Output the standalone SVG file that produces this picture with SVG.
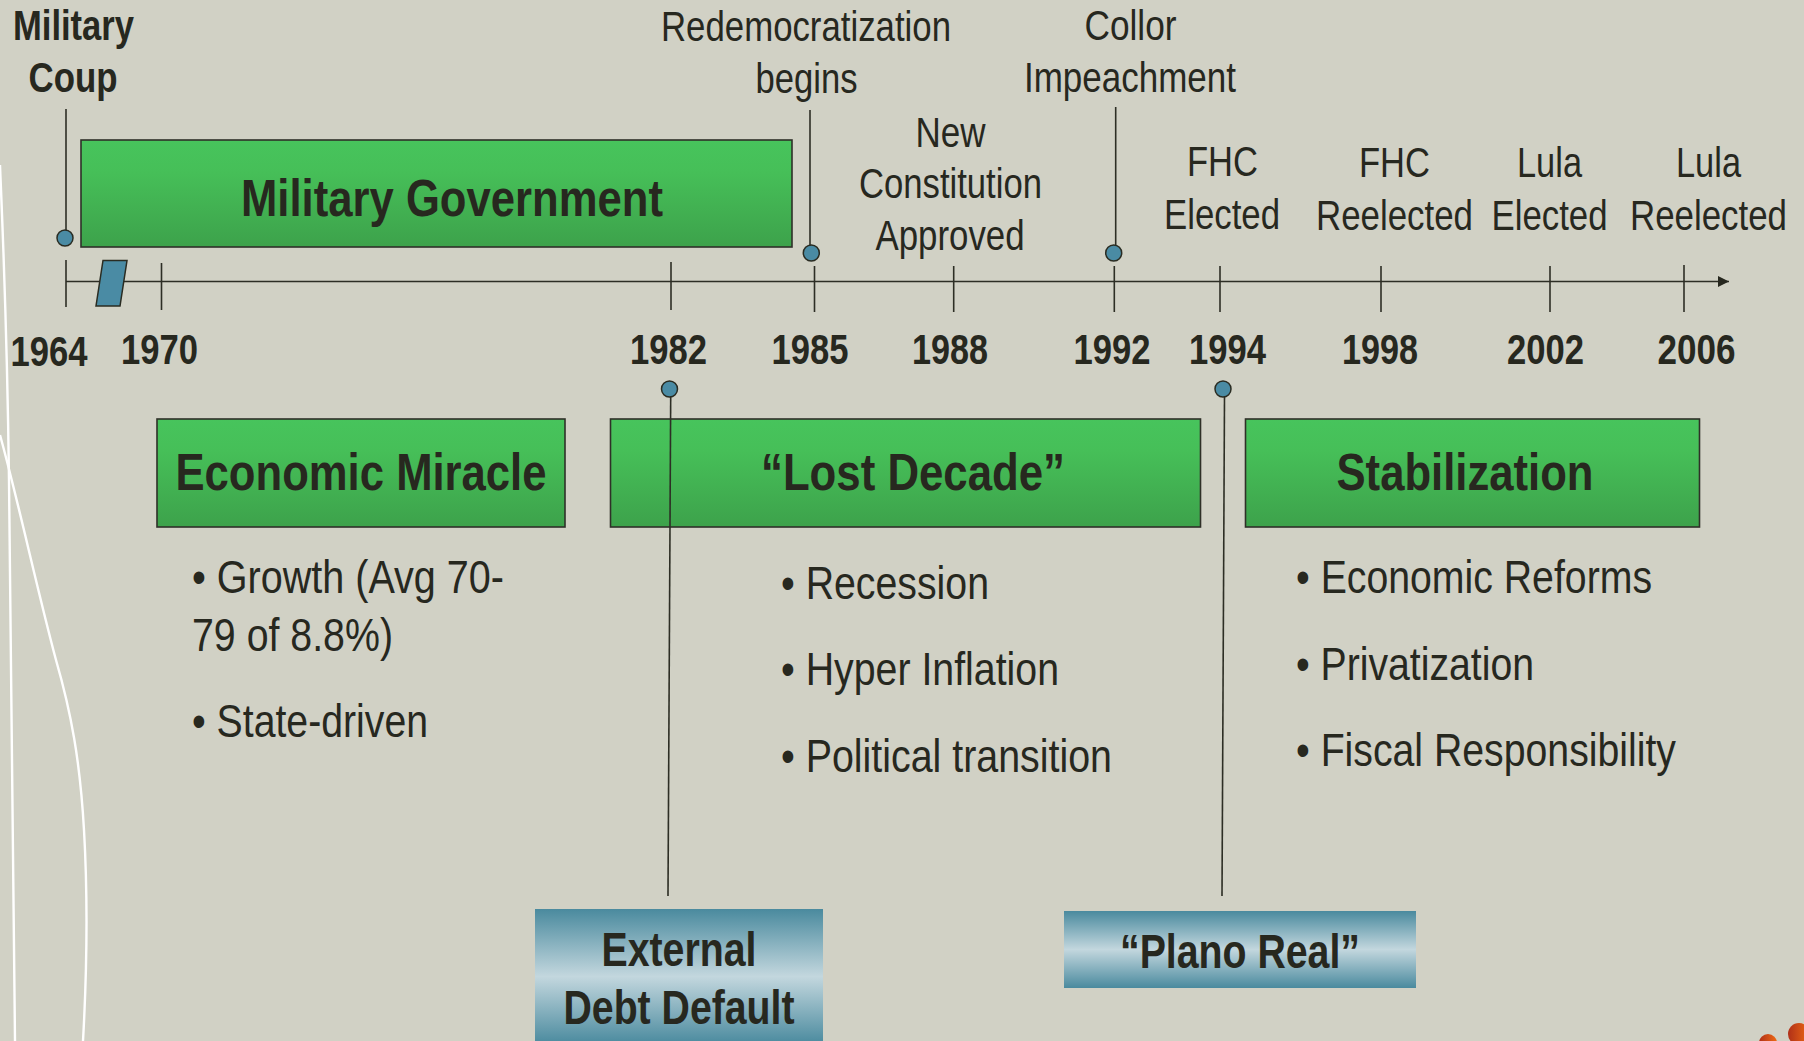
<svg xmlns="http://www.w3.org/2000/svg" width="1804" height="1041" viewBox="0 0 1804 1041">
<style>
text{font-family:"Liberation Sans",Arial,sans-serif;fill:#27281f}
.b{font-weight:700}
.l{font-size:42px}
.y{font-size:42px;font-weight:700}
.h{font-size:52px;font-weight:700}
.s{font-size:48px;font-weight:700}
.t{font-size:47px}
.ln{stroke:#2d2e25;stroke-width:1.6;fill:none}
.cv{stroke:#fff;stroke-width:2.400;fill:none}
.dot{fill:#4a8ba4;stroke:#2a2c22;stroke-width:1.5}
.gb{fill:url(#g);stroke:#2f3028;stroke-width:1.6}
</style>
<defs>
<linearGradient id="g" x1="0" y1="0" x2="0" y2="1"><stop offset="0" stop-color="#47c45c"/><stop offset=".3" stop-color="#46bf58"/><stop offset="1" stop-color="#3da24b"/></linearGradient>
<linearGradient id="c" x1="0" y1="0" x2="0" y2="1"><stop offset="0" stop-color="#4a8a9e"/><stop offset=".5" stop-color="#c3d7de"/><stop offset="1" stop-color="#4a8a9e"/></linearGradient>
<linearGradient id="o" x1="0" y1="0" x2="1" y2="0"><stop offset="0" stop-color="#b03018"/><stop offset="1" stop-color="#ee6a14"/></linearGradient>
<marker id="a" markerUnits="userSpaceOnUse" markerWidth="12" markerHeight="12" refX="11" refY="6" orient="auto"><path d="M0 .5L11 6L0 11.500Z" fill="#27281f"/></marker>
</defs>
<rect width="1804" height="1041" fill="#d1d1c5"/>
<g id="background">
<path class="cv" d="M0 165C3 240 7 320 9 480C13 700 15 880 15 1041"/>
<path class="cv" d="M0 435C18 500 36 585 56 660C71 712 80 760 84 830C88 900 87 970 83 1041"/>
<circle cx="1768" cy="1043" r="9" fill="url(#o)"/>
<circle cx="1799" cy="1034" r="11" fill="url(#o)"/>
</g>
<g id="connectors">
<line class="ln" x1="66" y1="281.500" x2="1729" y2="281.500" marker-end="url(#a)"/>
<line class="ln" x1="66" y1="260" x2="66" y2="307"/>
<line class="ln" x1="161.500" y1="263" x2="161.500" y2="310"/>
<line class="ln" x1="671" y1="262" x2="671" y2="310"/>
<line class="ln" x1="814.500" y1="266" x2="814.500" y2="312"/>
<line class="ln" x1="953.700" y1="266" x2="953.700" y2="312"/>
<line class="ln" x1="1114.300" y1="266" x2="1114.300" y2="312"/>
<line class="ln" x1="1220" y1="266" x2="1220" y2="312"/>
<line class="ln" x1="1381" y1="266" x2="1381" y2="312"/>
<line class="ln" x1="1550" y1="266" x2="1550" y2="312"/>
<line class="ln" x1="1684" y1="265" x2="1684" y2="312"/>
<line class="ln" x1="66" y1="109" x2="66" y2="231"/>
<line class="ln" x1="810" y1="110" x2="810" y2="246"/>
<line class="ln" x1="1115.700" y1="107" x2="1115.700" y2="246"/>
</g>
<g id="axis-marker"><path d="M103 260.500H127L120 306H96Z" fill="#4a8ba4" stroke="#2a2c22" stroke-width="1.500"/></g>
<g id="military-government"><rect class="gb" x="81" y="140" width="711" height="107"/><text class="h" x="452" y="216" text-anchor="middle" textLength="422" lengthAdjust="spacingAndGlyphs">Military Government</text></g>
<g id="economic-miracle"><rect class="gb" x="157" y="419" width="408" height="108"/><text class="h" x="361" y="490" text-anchor="middle" textLength="371" lengthAdjust="spacingAndGlyphs">Economic Miracle</text>
<text class="t" x="192" y="593" textLength="312" lengthAdjust="spacingAndGlyphs">• Growth (Avg 70-</text><text class="t" x="192" y="651" textLength="201" lengthAdjust="spacingAndGlyphs">79 of 8.8%)</text><text class="t" x="192" y="737" textLength="236" lengthAdjust="spacingAndGlyphs">• State-driven</text></g>
<g id="lost-decade"><rect class="gb" x="610.500" y="419" width="590" height="108"/><text class="h" x="913" y="490" text-anchor="middle" textLength="304" lengthAdjust="spacingAndGlyphs">“Lost Decade”</text>
<text class="t" x="781" y="599" textLength="208" lengthAdjust="spacingAndGlyphs">• Recession</text><text class="t" x="781" y="685" textLength="278" lengthAdjust="spacingAndGlyphs">• Hyper Inflation</text><text class="t" x="781" y="772" textLength="331" lengthAdjust="spacingAndGlyphs">• Political transition</text></g>
<g id="stabilization"><rect class="gb" x="1245.500" y="419" width="454" height="108"/><text class="h" x="1465" y="490" text-anchor="middle" textLength="257" lengthAdjust="spacingAndGlyphs">Stabilization</text>
<text class="t" x="1296" y="593" textLength="356" lengthAdjust="spacingAndGlyphs">• Economic Reforms</text><text class="t" x="1296" y="680" textLength="238" lengthAdjust="spacingAndGlyphs">• Privatization</text><text class="t" x="1296" y="766" textLength="380" lengthAdjust="spacingAndGlyphs">• Fiscal Responsibility</text></g>
<g id="connectors-debt">
<line class="ln" x1="670.700" y1="396" x2="668" y2="896"/>
<line class="ln" x1="1224.500" y1="396" x2="1222" y2="896"/>
</g>
<g id="military-coup"><circle class="dot" cx="65" cy="238" r="8"/><text class="l b" x="73.500" y="40" text-anchor="middle" textLength="121" lengthAdjust="spacingAndGlyphs">Military</text><text class="l b" x="73" y="92" text-anchor="middle" textLength="89" lengthAdjust="spacingAndGlyphs">Coup</text></g>
<g id="redemocratization"><circle class="dot" cx="811.300" cy="253" r="8"/><text class="l" x="806" y="41" text-anchor="middle" textLength="290" lengthAdjust="spacingAndGlyphs">Redemocratization</text><text class="l" x="806.500" y="93" text-anchor="middle" textLength="102" lengthAdjust="spacingAndGlyphs">begins</text></g>
<g id="new-constitution"><text class="l" x="950.500" y="146.700" text-anchor="middle" textLength="70" lengthAdjust="spacingAndGlyphs">New</text><text class="l" x="950.500" y="197.700" text-anchor="middle" textLength="183" lengthAdjust="spacingAndGlyphs">Constitution</text><text class="l" x="950" y="250" text-anchor="middle" textLength="149" lengthAdjust="spacingAndGlyphs">Approved</text></g>
<g id="collor"><circle class="dot" cx="1113.700" cy="253" r="8"/><text class="l" x="1130.500" y="40" text-anchor="middle" textLength="92" lengthAdjust="spacingAndGlyphs">Collor</text><text class="l" x="1130" y="92" text-anchor="middle" textLength="212" lengthAdjust="spacingAndGlyphs">Impeachment</text></g>
<g id="fhc-elected"><text class="l" x="1222.500" y="176" text-anchor="middle" textLength="71" lengthAdjust="spacingAndGlyphs">FHC</text><text class="l" x="1222" y="229" text-anchor="middle" textLength="116" lengthAdjust="spacingAndGlyphs">Elected</text></g>
<g id="fhc-reelected"><text class="l" x="1394.500" y="176.500" text-anchor="middle" textLength="71" lengthAdjust="spacingAndGlyphs">FHC</text><text class="l" x="1394.500" y="229.500" text-anchor="middle" textLength="157" lengthAdjust="spacingAndGlyphs">Reelected</text></g>
<g id="lula-elected"><text class="l" x="1549.500" y="176.500" text-anchor="middle" textLength="65" lengthAdjust="spacingAndGlyphs">Lula</text><text class="l" x="1549.500" y="229.500" text-anchor="middle" textLength="116" lengthAdjust="spacingAndGlyphs">Elected</text></g>
<g id="lula-reelected"><text class="l" x="1708.500" y="176.500" text-anchor="middle" textLength="65" lengthAdjust="spacingAndGlyphs">Lula</text><text class="l" x="1708.500" y="229.500" text-anchor="middle" textLength="157" lengthAdjust="spacingAndGlyphs">Reelected</text></g>
<g id="years">
<text class="y" x="49" y="365.500" text-anchor="middle" textLength="77" lengthAdjust="spacingAndGlyphs">1964</text>
<text class="y" x="159.500" y="363.500" text-anchor="middle" textLength="77" lengthAdjust="spacingAndGlyphs">1970</text>
<text class="y" x="668.500" y="363.500" text-anchor="middle" textLength="77" lengthAdjust="spacingAndGlyphs">1982</text>
<text class="y" x="810" y="363.500" text-anchor="middle" textLength="77" lengthAdjust="spacingAndGlyphs">1985</text>
<text class="y" x="950" y="363.500" text-anchor="middle" textLength="76" lengthAdjust="spacingAndGlyphs">1988</text>
<text class="y" x="1112" y="363.500" text-anchor="middle" textLength="77" lengthAdjust="spacingAndGlyphs">1992</text>
<text class="y" x="1227.500" y="363.500" text-anchor="middle" textLength="77" lengthAdjust="spacingAndGlyphs">1994</text>
<text class="y" x="1380" y="363.500" text-anchor="middle" textLength="76" lengthAdjust="spacingAndGlyphs">1998</text>
<text class="y" x="1545.500" y="363.500" text-anchor="middle" textLength="77" lengthAdjust="spacingAndGlyphs">2002</text>
<text class="y" x="1696.500" y="363.500" text-anchor="middle" textLength="78" lengthAdjust="spacingAndGlyphs">2006</text>
</g>
<g id="dots-lower"><circle class="dot" cx="669.500" cy="389" r="8"/><circle class="dot" cx="1223" cy="389" r="8"/></g>
<g id="external-debt-default"><rect x="535" y="909" width="288" height="135" fill="url(#c)"/><text class="s" x="679" y="966" text-anchor="middle" textLength="155" lengthAdjust="spacingAndGlyphs">External</text><text class="s" x="679" y="1024" text-anchor="middle" textLength="231" lengthAdjust="spacingAndGlyphs">Debt Default</text></g>
<g id="plano-real"><rect x="1064" y="911" width="352" height="77" fill="url(#c)"/><text class="s" x="1240" y="968" text-anchor="middle" textLength="240" lengthAdjust="spacingAndGlyphs">“Plano Real”</text></g>
</svg>
